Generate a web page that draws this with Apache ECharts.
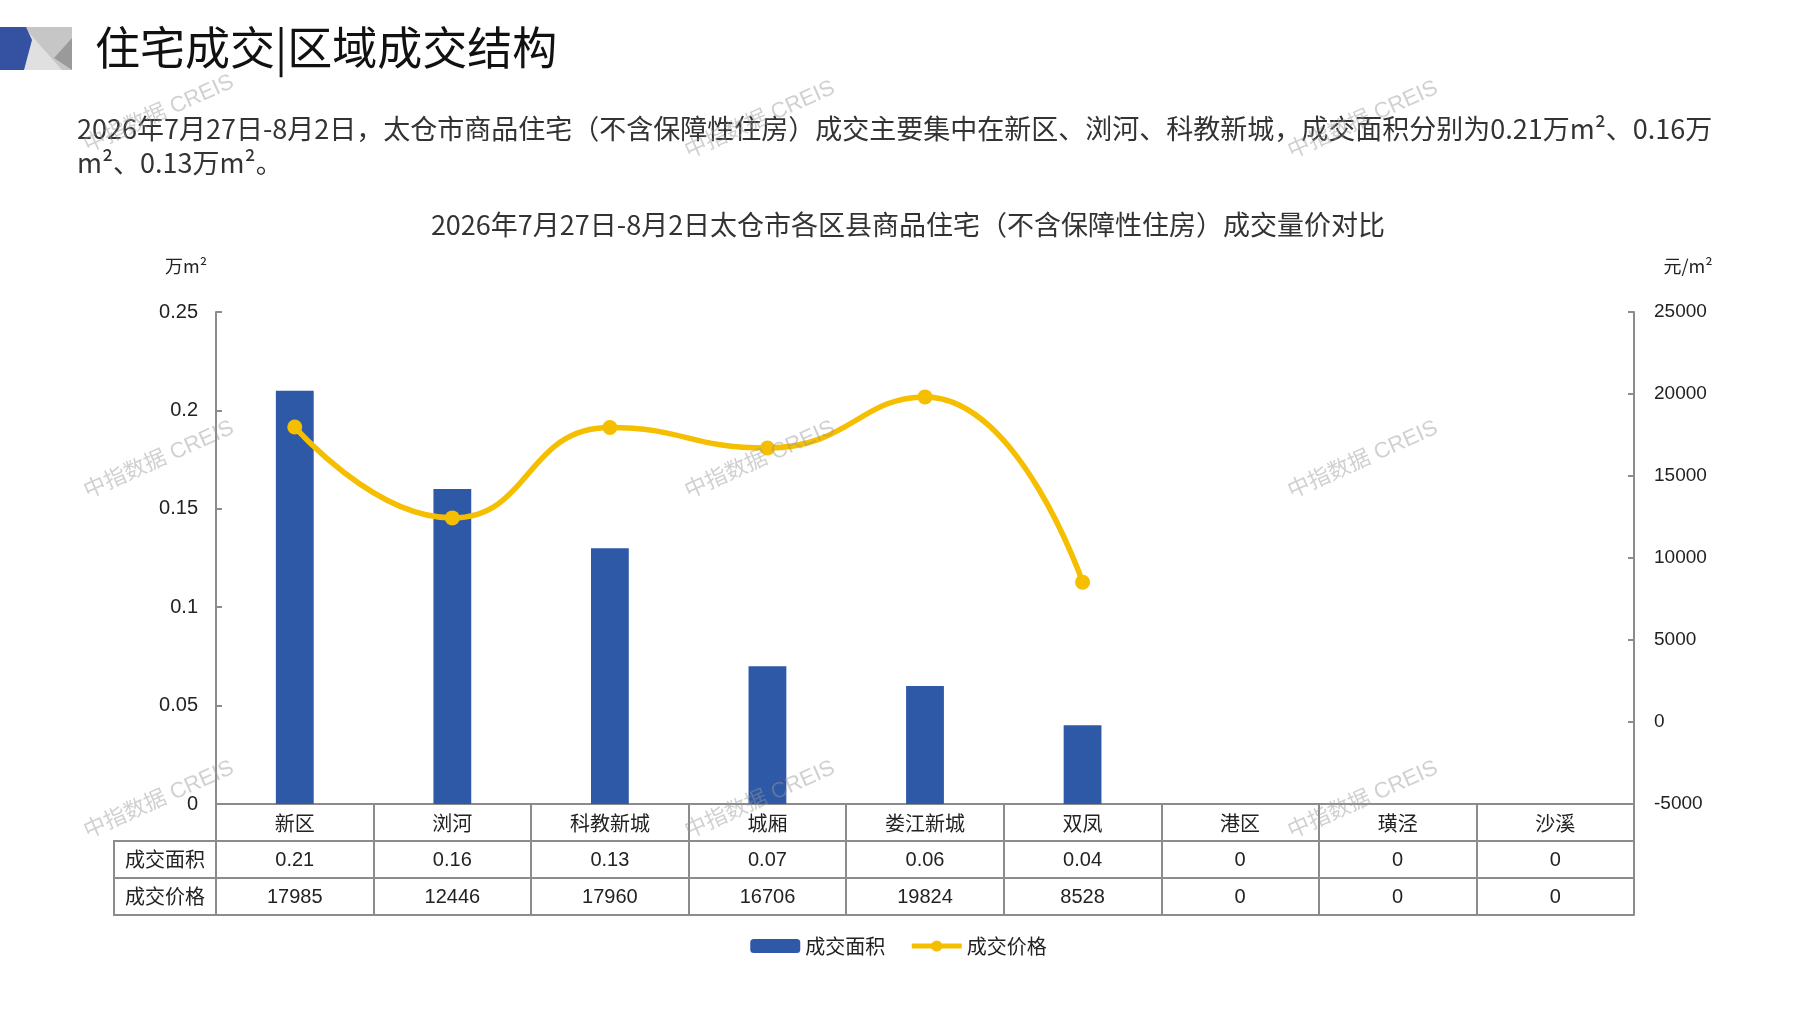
<!DOCTYPE html>
<html>
<head>
<meta charset="utf-8">
<script src="https://cdn.jsdelivr.net/npm/echarts@6/dist/echarts.min.js"></script>
<style>
html,body{margin:0;padding:0;background:#fff;}
#main{width:1797px;height:1010px;}
</style>
</head>
<body>
<div id="main"></div>
<script>
// 区县 / 成交面积(万m²) / 成交价格(元/m²)
var districts = ['新区', '浏河', '科教新城', '城厢', '娄江新城', '双凤', '港区', '璜泾', '沙溪'];
var areaData = [0.21, 0.16, 0.13, 0.07, 0.06, 0.04, 0, 0, 0];
var priceData = [17985, 12446, 17960, 16706, 19824, 8528, 0, 0, 0];
var areaName = '成交面积';
var priceName = '成交价格';
var leftAxisRange = [0, 0.25, 0.05];
var rightAxisRange = [-5000, 25000, 5000];

var headText = '住宅成交|区域成交结构';
var introText = '2026年7月27日-8月2日，太仓市商品住宅（不含保障性住房）成交主要集中在新区、浏河、科教新城，成交面积分别为0.21万m²、0.16万\nm²、0.13万m²。';
var chartTitle = '2026年7月27日-8月2日太仓市各区县商品住宅（不含保障性住房）成交量价对比';
var markText = '中指数据 CREIS';

var CJK = "'Noto Sans CJK SC', sans-serif";
var MIX = "'Liberation Sans Narrow', 'Noto Sans CJK SC', sans-serif";
var NUM = "'Liberation Sans', Arial, 'Noto Sans CJK SC', sans-serif";
var ROW = 37;
var LINE_C = '#8c8c8c';
var GOLD = '#f5bf00';

function tableAxis(data, offset, name) {
    return {
        type: 'category',
        gridIndex: 0,
        position: 'bottom',
        offset: offset,
        data: data,
        axisLine: {show: true, onZero: false, lineStyle: {color: LINE_C, width: 2}},
        axisTick: {show: true, interval: 0, length: ROW, lineStyle: {color: LINE_C, width: 2}},
        axisLabel: {interval: 0, margin: 9, fontSize: 20, color: '#222', fontFamily: name ? NUM : CJK},
        splitLine: {show: false},
        name: name || '',
        nameLocation: 'start',
        nameGap: 0,
        nameTextStyle: {
            fontFamily: CJK, fontSize: 20, color: '#222',
            align: 'right', verticalAlign: 'top',
            lineHeight: ROW, padding: [0, 11, 0, 11],
            borderColor: LINE_C, borderWidth: 2
        }
    };
}

var marks = [];
[[159, 114], [760, 120], [1363, 120], [159, 460], [760, 460], [1363, 460], [159, 800], [760, 800], [1363, 800]].forEach(function (p) {
    marks.push({
        type: 'text', x: p[0], y: p[1], rotation: 0.42, z: 100, silent: true,
        style: {text: markText, fontSize: 22, fontFamily: NUM, fill: 'rgba(150,150,150,0.45)', align: 'center', verticalAlign: 'middle'}
    });
});

var chart = echarts.init(document.getElementById('main'));
var option = {
    backgroundColor: '#fff',
    animation: false,
    title: [
        {text: headText, left: 90, top: 20, textStyle: {fontFamily: CJK, fontSize: 45, fontWeight: 'normal', color: '#111'}},
        {text: introText, left: 72, top: 107, textStyle: {fontFamily: MIX, fontSize: 27, fontWeight: 'normal', color: '#333', lineHeight: 34}},
        {text: chartTitle, left: 903, textAlign: 'center', top: 206, textStyle: {fontFamily: MIX, fontSize: 27, fontWeight: 'normal', color: '#333'}}
    ],
    graphic: [
        {type: 'polygon', shape: {points: [[24, 27], [72, 27], [72, 70], [24, 70]]}, style: {fill: '#c6c6c6'}},
        {type: 'polygon', shape: {points: [[24, 27], [24, 70], [62, 70]]}, style: {fill: '#e0e0e0'}},
        {type: 'polygon', shape: {points: [[72, 38], [72, 70], [54, 58]]}, style: {fill: '#9a9a9a'}},
        {type: 'polygon', shape: {points: [[0, 27], [26, 27], [32, 40], [24, 70], [0, 70]]}, style: {fill: '#3552a2'}}
    ].concat(marks),
    legend: {
        top: 931, left: 'center',
        itemWidth: 50, itemHeight: 14, itemGap: 24,
        textStyle: {fontFamily: CJK, fontSize: 20, color: '#222'},
        data: [
            {name: areaName},
            {name: priceName, lineStyle: {width: 5, color: GOLD}, itemStyle: {color: GOLD}}
        ]
    },
    grid: {left: 216, right: 163, top: 312, bottom: 206, containLabel: false},
    xAxis: [
        tableAxis(districts, 0),
        tableAxis(areaData, ROW, areaName),
        tableAxis(priceData, ROW * 2, priceName),
        {
            type: 'category', gridIndex: 0, position: 'bottom', offset: ROW * 3, data: districts,
            axisLine: {show: true, onZero: false, lineStyle: {color: LINE_C, width: 2}},
            axisTick: {show: false}, axisLabel: {show: false}
        }
    ],
    yAxis: [
        {
            type: 'value', position: 'left',
            min: leftAxisRange[0], max: leftAxisRange[1], interval: leftAxisRange[2],
            name: '万m²', nameGap: 37,
            nameTextStyle: {fontFamily: CJK, fontSize: 18, color: '#222', padding: [0, 60, 0, 0]},
            axisLine: {show: true, lineStyle: {color: LINE_C, width: 2}},
            axisTick: {show: true, inside: true, length: 6, lineStyle: {color: LINE_C, width: 2}},
            axisLabel: {fontFamily: NUM, fontSize: 20, color: '#222', margin: 18},
            splitLine: {show: false}
        },
        {
            type: 'value', position: 'right',
            min: rightAxisRange[0], max: rightAxisRange[1], interval: rightAxisRange[2],
            name: '元/m²', nameGap: 37,
            nameTextStyle: {fontFamily: CJK, fontSize: 18, color: '#222', padding: [0, 0, 0, 108]},
            axisLine: {show: true, lineStyle: {color: LINE_C, width: 2}},
            axisTick: {show: true, inside: true, length: 6, lineStyle: {color: LINE_C, width: 2}},
            axisLabel: {
                fontFamily: NUM, fontSize: 19, color: '#222', margin: 20,
                formatter: function (v) { return String(v); }
            },
            splitLine: {show: false}
        }
    ],
    series: [
        {
            name: areaName, type: 'bar', xAxisIndex: 0, yAxisIndex: 0,
            barWidth: '24%',
            itemStyle: {color: '#2e59a7'},
            data: areaData
        },
        {
            name: priceName, type: 'line', xAxisIndex: 0, yAxisIndex: 1,
            smooth: 0.5,
            symbol: 'circle', symbolSize: 15,
            lineStyle: {color: GOLD, width: 5.5},
            itemStyle: {color: GOLD},
            data: priceData.map(function (v) { return v === 0 ? null : v; })
        }
    ]
};
chart.setOption(option);
</script>
</body>
</html>
